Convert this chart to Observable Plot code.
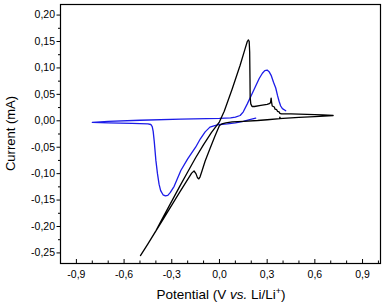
<!DOCTYPE html>
<html>
<head>
<meta charset="utf-8">
<script src="https://cdn.jsdelivr.net/npm/d3@7"></script>
<script src="https://cdn.jsdelivr.net/npm/@observablehq/plot@0.6"></script>
<style>
  html, body { margin: 0; padding: 0; background: white; }
</style>
</head>
<body>
<script>
// Black CV (potential V, current mA), in sweep order
const blackCurve = [
  [0.715, 0.010], [0.60, 0.008], [0.50, 0.0065], [0.40, 0.0045], [0.378, 0.004],
  [0.380, 0.007], [0.382, 0.004], [0.30, 0.002], [0.24, 0.0005], [0.15, -0.001],
  [0.08, -0.002], [0.04, -0.004], [0.015, -0.006], [0.0, -0.009], [-0.03, -0.030],
  [-0.06, -0.053], [-0.09, -0.076], [-0.11, -0.095], [-0.122, -0.106], [-0.130, -0.110],
  [-0.138, -0.108], [-0.148, -0.100], [-0.160, -0.095], [-0.175, -0.099], [-0.25, -0.135],
  [-0.35, -0.184], [-0.45, -0.233], [-0.497, -0.255],
  [-0.45, -0.233], [-0.40, -0.208], [-0.35, -0.180], [-0.30, -0.152], [-0.25, -0.124],
  [-0.20, -0.097], [-0.15, -0.070], [-0.10, -0.045], [-0.05, -0.022], [0.0, -0.002],
  [0.03, 0.018], [0.08, 0.060], [0.13, 0.105], [0.16, 0.135], [0.175, 0.150],
  [0.182, 0.153], [0.187, 0.150], [0.190, 0.130], [0.192, 0.080], [0.193, 0.045],
  [0.197, 0.032], [0.205, 0.027], [0.22, 0.027], [0.26, 0.029], [0.30, 0.031],
  [0.318, 0.033], [0.322, 0.036], [0.325, 0.043], [0.328, 0.035], [0.332, 0.028],
  [0.345, 0.026], [0.350, 0.022], [0.360, 0.021], [0.365, 0.018], [0.375, 0.017],
  [0.380, 0.014], [0.390, 0.013], [0.45, 0.013], [0.55, 0.012], [0.65, 0.011],
  [0.715, 0.010]
];

// Blue CV (potential V, current mA), in sweep order
const blueCurve = [
  [0.228, 0.005], [0.19, 0.002], [0.15, -0.001], [0.10, -0.004], [0.05, -0.006],
  [0.0, -0.007], [-0.03, -0.009], [-0.06, -0.012], [-0.09, -0.021], [-0.12, -0.034],
  [-0.15, -0.050], [-0.20, -0.072], [-0.243, -0.094], [-0.285, -0.124], [-0.31, -0.136],
  [-0.325, -0.141], [-0.34, -0.142], [-0.355, -0.140], [-0.37, -0.132], [-0.38, -0.120],
  [-0.39, -0.100], [-0.40, -0.075], [-0.41, -0.040], [-0.417, -0.020], [-0.423, -0.011],
  [-0.432, -0.007], [-0.45, -0.006], [-0.55, -0.005], [-0.70, -0.004], [-0.80, -0.003],
  [-0.70, -0.001], [-0.50, 0.001], [-0.243, 0.003], [0.0, 0.0045], [0.07, 0.0055],
  [0.10, 0.007], [0.13, 0.010], [0.15, 0.017], [0.175, 0.032], [0.20, 0.048],
  [0.225, 0.064], [0.25, 0.080], [0.27, 0.090], [0.285, 0.095], [0.30, 0.096],
  [0.312, 0.093], [0.325, 0.086], [0.34, 0.073], [0.354, 0.062], [0.365, 0.048],
  [0.375, 0.037], [0.385, 0.028], [0.396, 0.023], [0.417, 0.019]
];

const xTicks = [-0.9, -0.6, -0.3, 0.0, 0.3, 0.6, 0.9];
const xTickLabels = ["-0,9", "-0,6", "-0,3", "0,0", "0,3", "0,6", "0,9"];
const xMinorTicks = [-0.8, -0.7, -0.5, -0.4, -0.2, -0.1, 0.1, 0.2, 0.4, 0.5, 0.7, 0.8, 1.0];

const yTicks = [-0.25, -0.20, -0.15, -0.10, -0.05, 0.0, 0.05, 0.10, 0.15, 0.20];
const yTickLabels = ["-0,25", "-0,20", "-0,15", "-0,10", "-0,05", "0,00", "0,05", "0,10", "0,15", "0,20"];
const yMinorTicks = [-0.225, -0.175, -0.125, -0.075, -0.025, 0.025, 0.075, 0.125, 0.175];

const xTitle = ["Potential (V ", "vs.", " Li/Li", "+", ")"];
const yTitle = "Current (mA)";

const W = 385, H = 306, mL = 60, mR = 5, mT = 4, mB = 43;
const innerH = H - mT - mB;

const chart = Plot.plot({
  width: W, height: H,
  marginLeft: mL, marginRight: mR, marginTop: mT, marginBottom: mB,
  x: {domain: [-1.0, 1.013]},
  y: {domain: [-0.27, 0.22]},
  style: {fontFamily: "'Liberation Sans', Arial, sans-serif", fontSize: "10.5px", color: "black", background: "white"},
  marks: [
    Plot.line(blueCurve, {x: d => d[0], y: d => d[1], stroke: "#1c1ce8", strokeWidth: 1.3}),
    Plot.line(blackCurve, {x: d => d[0], y: d => d[1], stroke: "black", strokeWidth: 1.3}),
    Plot.frame({stroke: "black", strokeWidth: 1.2}),
    Plot.tickX(xTicks, {x: d => d, insetTop: innerH - 4, stroke: "black", strokeWidth: 1}),
    Plot.tickX(xMinorTicks, {x: d => d, insetTop: innerH - 2.5, stroke: "black", strokeWidth: 1}),
    Plot.axisX({ticks: xTicks, tickSize: 0, tickPadding: 7, label: null, fontSize: 10.5,
      tickFormat: d => xTickLabels[xTicks.indexOf(d)]}),
    Plot.axisY({ticks: yTicks, tickSize: 3.5, tickPadding: 2, label: null, fontSize: 10.5,
      tickFormat: d => yTickLabels[yTicks.indexOf(d)]}),
    Plot.axisY({ticks: yMinorTicks, tickSize: 2, label: null, tickFormat: () => ""})
  ]
});

const svg = d3.select(chart);
const xt = svg.append("text")
  .attr("x", 221).attr("y", 299)
  .attr("text-anchor", "middle")
  .attr("font-size", 13.5)
  .attr("fill", "black");
xt.append("tspan").text(xTitle[0]);
xt.append("tspan").attr("font-style", "italic").text(xTitle[1]);
xt.append("tspan").text(xTitle[2]);
xt.append("tspan").attr("dy", -5).attr("font-size", 9).text(xTitle[3]);
xt.append("tspan").attr("dy", 5).text(xTitle[4]);

svg.append("text")
  .attr("transform", `translate(15,${mT + innerH / 2}) rotate(-90)`)
  .attr("text-anchor", "middle")
  .attr("font-size", 13)
  .attr("fill", "black")
  .text(yTitle);

document.body.appendChild(chart);
</script>
</body>
</html>
